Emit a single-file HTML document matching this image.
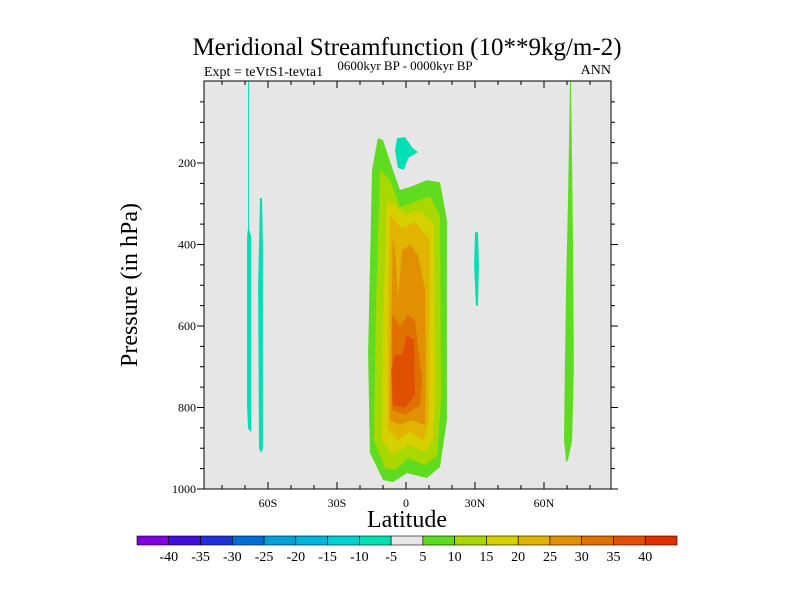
<!DOCTYPE html>
<html><head><meta charset="utf-8"><style>
html,body{margin:0;padding:0;background:#fff;}
svg{display:block;font-family:"Liberation Serif",serif;}
</style></head><body>
<svg id="chart" width="800" height="600">
<text x="407" y="55" text-anchor="middle" font-size="25">Meridional Streamfunction (10**9kg/m-2)</text>
<text x="204" y="76" font-size="14">Expt = teVtS1-tevta1</text>
<text x="405" y="70" text-anchor="middle" font-size="13">0600kyr BP - 0000kyr BP</text>
<text x="611" y="74" text-anchor="end" font-size="14">ANN</text>
<rect x="204" y="81" width="407" height="408" fill="#e6e6e6"/>
<g id="contours"></g>
<g id="axes"></g>
<rect x="204" y="81" width="407" height="408" fill="none" stroke="#000" stroke-width="1"/>
<text x="407" y="527" text-anchor="middle" font-size="24">Latitude</text>
<text transform="translate(137,285) rotate(-90)" text-anchor="middle" font-size="24">Pressure (in hPa)</text>
<g id="colorbar"></g>
</svg>
<script>
const levels=[-40,-35,-30,-25,-20,-15,-10,-5,5,10,15,20,25,30,35,40];
const barColors=["#8000e0","#4010d8","#2030d8","#0070d8","#00a0d8","#00b4dc","#00d0d4","#00e0b4","#e6e6e6","#60dc20","#a8d800","#d6d000","#e0b400","#e09000","#e07000","#e05000","#e03000"];
const xTickLats=[-60,-30,0,30,60];
const xTickLabels=["60S","30S","0","30N","60N"];
const yTicks=[200,400,600,800,1000];
// contour polygons: [lat, pressure] vertices with fill level
const c5=[[-12.2,139],[-14.8,217],[-16.5,666],[-15.7,911],[-10,978],[-5.7,983],[0.4,961],[9.1,973],[14.8,946],[17.8,831],[17.8,340],[14.8,247],[9.1,242],[1.7,259],[-2.6,266],[-5.7,217],[-10,144]];
const c10=[[-11.3,217],[-13,537],[-13.9,880],[-9.1,949],[-4.8,954],[0.9,924],[8.3,941],[13.5,917],[15.2,782],[14.8,328],[10.4,281],[2.6,298],[-2.6,308],[-7,242]];
const c15=[[-8.3,291],[-10,585],[-10.4,880],[-5.7,917],[0.9,892],[8.3,909],[11.7,880],[12.6,782],[12.2,352],[6.1,315],[-0.4,328],[-4.8,303]];
const c20=[[-7,328],[-7.8,610],[-7.8,855],[-3.5,880],[1.7,860],[7.8,880],[10,831],[10.4,389],[3.9,345],[-1.7,360]];
const c25=[[-5.7,377],[-6.5,610],[-7,831],[-2.6,843],[2.6,831],[8.3,843],[8.7,733],[8.3,512],[5.2,426],[1.7,401],[-1.7,414],[-3.5,536],[-4.3,438]];
const c30=[[-6.1,573],[-6.1,806],[-0.4,818],[6.1,794],[7,733],[3.9,585],[0.9,573],[-2.6,598]];
const c35=[[-6.5,708],[-5.7,794],[-0.4,801],[3.9,769],[3.5,634],[0.4,622],[-1.7,671],[-4.8,671]];
const cNeg1=[[-3.9,139],[-0.4,137],[3,164],[5.2,173],[0.9,188],[-0.9,217],[-3.5,212],[-4.8,169]];
const cNeg2=[[-68.7,-1],[-68.3,-1],[-68.3,360],[-67.4,380],[-67.4,860],[-68.3,855],[-68.7,850],[-69.1,800],[-69.1,380],[-68.7,360]];
const cNeg3=[[-63.5,286],[-62.6,286],[-62.2,400],[-62.2,900],[-63,912],[-63.9,900],[-64.3,500],[-63.9,400]];
const cNeg4=[[30,370],[31.3,370],[31.7,450],[31.3,550],[30.4,550],[29.6,450]];
const cPos1=[[71.7,-1],[71.3,-1],[71,100],[70.4,300],[69.6,500],[69.1,700],[68.7,880],[69.6,933],[70.4,930],[72.2,880],[73,700],[72.6,400],[72.2,200]];
const polys=[[c5,5],[c10,10],[c15,15],[c20,20],[c25,25],[c30,30],[c35,35],[cNeg1,-10],[cNeg2,-10],[cNeg3,-10],[cNeg4,-10],[cPos1,5]];
const NS="http://www.w3.org/2000/svg";
const X=lat=>406+lat*2.3;
const Y=p=>81.5+p*0.4075;
function colorFor(v){let i=0;while(i<levels.length&&v>=levels[i])i++;return barColors[i];}
const cg=document.getElementById('contours');
polys.forEach(([pts,v],k)=>{
 const el=document.createElementNS(NS,'polygon');
 el.setAttribute('points',pts.map(q=>X(q[0]).toFixed(1)+','+Math.max(81,Y(q[1])).toFixed(1)).join(' '));
 el.setAttribute('fill',colorFor(v));
 
 
 cg.appendChild(el);
});
const ag=document.getElementById('axes');
function line(x1,y1,x2,y2,name){const l=document.createElementNS(NS,'line');l.setAttribute('x1',x1);l.setAttribute('y1',y1);l.setAttribute('x2',x2);l.setAttribute('y2',y2);l.setAttribute('stroke','#000');l.setAttribute('stroke-width','1');
 
 
 ag.appendChild(l);}
function text(x,y,s,anchor,size,name,parent){const t=document.createElementNS(NS,'text');t.setAttribute('x',x);t.setAttribute('y',y);t.setAttribute('text-anchor',anchor);t.setAttribute('font-size',size);t.textContent=s;
 
 
 (parent||ag).appendChild(t);}
for(let lat=-80;lat<=80;lat+=10){const x=X(lat);const major=lat%30===0;line(x,489,x,489-(major?7:4),'x-tick');line(x,81,x,81+(major?7:4),'x-tick-top');}
xTickLats.forEach((lat,i)=>text(X(lat),507,xTickLabels[i],'middle',12,'x-tick-label'));
for(let p=50;p<=1000;p+=50){const y=Y(p);const major=p%200===0;line(204,y,204-(major?7:4),y,'y-tick');line(611,y,611+(major?7:4),y,'y-tick-right');}
yTicks.forEach(p=>text(196,Y(p)+4,String(p),'end',12,'y-tick-label'));
const cb=document.getElementById('colorbar');
const bw=540/barColors.length;
barColors.forEach((c,i)=>{const r=document.createElementNS(NS,'rect');r.setAttribute('x',137+i*bw);r.setAttribute('y',536);r.setAttribute('width',bw);r.setAttribute('height',9);r.setAttribute('fill',c);r.setAttribute('stroke','#000');r.setAttribute('stroke-width','0.6');
 
 
 cb.appendChild(r);});
levels.forEach((v,i)=>text(137+(i+1)*bw,561,String(v),'middle',14,'colorbar-label',cb));
</script>
</body></html>
